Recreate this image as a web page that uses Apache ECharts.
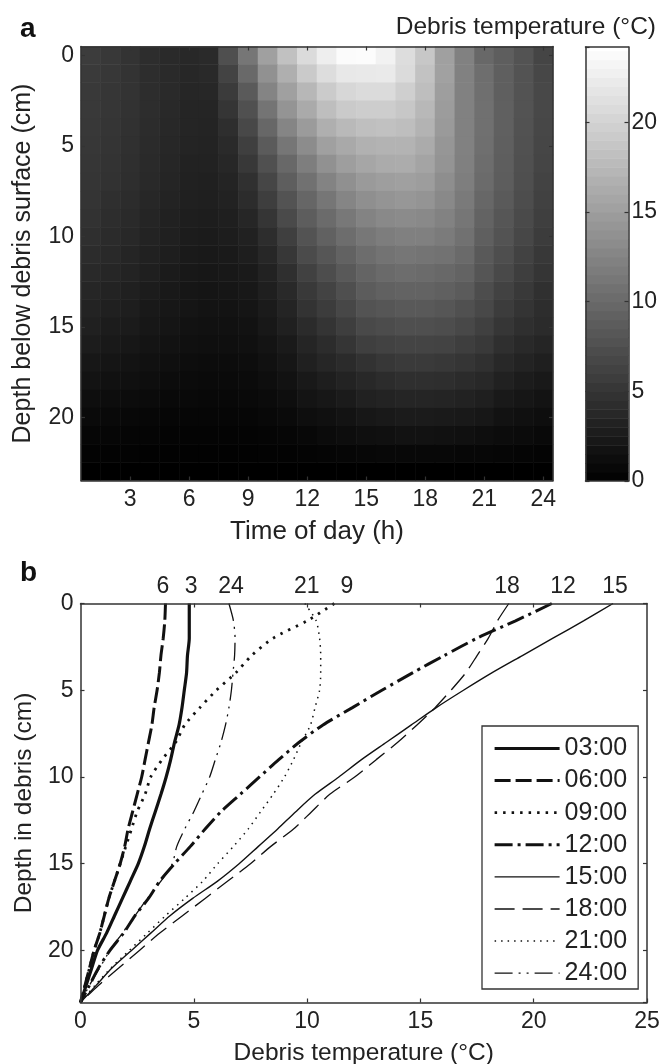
<!DOCTYPE html>
<html><head><meta charset="utf-8">
<style>html,body{margin:0;padding:0;background:#fff}#c{width:660px;height:1064px}canvas{filter:blur(.6px)}</style>
<script src="https://cdn.jsdelivr.net/npm/echarts@6/dist/echarts.min.js"></script>
</head><body><div id="c"></div>
<script>
const hours=[1,2,3,4,5,6,7,8,9,10,11,12,13,14,15,16,17,18,19,20,21,22,23,24];
const depths=[0,1,2,3,4,5,6,7,8,9,10,11,12,13,14,15,16,17,18,19,20,21,22,23];
const heat=[
[5.7,5.3,4.8,4.3,4.0,3.75,4.0,7.5,11.2,15.2,18.3,20.8,22.6,23.8,23.9,23.0,21.0,18.9,15.2,12.2,9.9,8.9,7.9,6.55],
[5.5,5.2,4.8,4.3,4.0,3.72,3.9,6.4,10.0,13.8,16.6,19.2,21.0,22.0,22.1,22.2,20.8,18.4,15.3,12.2,10.4,9.0,7.9,6.75],
[5.4,5.1,4.8,4.3,3.95,3.65,3.7,5.6,8.5,12.5,15.2,17.4,19.3,20.4,20.8,20.8,19.6,18.0,15.0,12.2,10.55,9.0,7.9,6.82],
[5.4,5.1,4.72,4.25,3.9,3.55,3.5,5.0,7.55,11.0,14.0,16.1,18.0,19.2,19.5,19.5,18.9,17.5,14.8,12.2,10.6,9.1,7.9,6.8],
[5.3,5.0,4.68,4.2,3.8,3.48,3.4,4.4,6.85,9.8,12.6,14.7,16.6,17.6,18.1,18.3,18.0,17.0,14.6,12.2,10.6,9.1,7.8,6.73],
[5.2,4.9,4.58,4.1,3.7,3.38,3.3,4.0,6.0,8.6,11.2,13.3,15.2,16.0,16.8,17.0,17.0,16.2,14.2,12.2,10.55,9.0,7.7,6.66],
[5.1,4.8,4.48,4.0,3.6,3.25,3.2,3.7,5.27,7.6,9.9,12.0,13.8,15.0,15.8,16.2,16.3,15.6,14.0,12.1,10.35,8.9,7.6,6.55],
[5.0,4.7,4.35,3.85,3.5,3.15,3.05,3.4,4.6,6.6,8.9,10.7,12.4,13.7,14.6,15.0,15.2,14.9,13.5,12.0,10.15,8.8,7.5,6.4],
[4.9,4.5,4.15,3.7,3.3,3.0,2.9,3.2,4.2,5.9,7.9,9.7,11.2,12.6,13.6,14.0,14.3,14.0,13.0,11.6,9.75,8.5,7.3,6.2],
[4.7,4.3,3.98,3.5,3.15,2.85,2.75,2.95,3.6,5.0,7.0,8.8,10.2,11.4,12.4,13.0,13.2,13.0,12.3,11.2,9.4,8.2,7.0,5.95],
[4.5,4.1,3.78,3.3,3.0,2.7,2.6,2.75,3.1,4.3,6.0,7.9,9.2,10.3,11.3,11.9,12.1,12.1,11.7,10.7,9.0,7.9,6.7,5.7],
[4.2,3.9,3.55,3.1,2.8,2.5,2.4,2.5,2.85,3.7,5.2,7.1,8.2,9.3,10.3,10.9,11.2,11.0,10.8,10.1,8.4,7.4,6.3,5.35],
[3.9,3.6,3.3,2.9,2.6,2.3,2.2,2.3,2.5,3.2,4.5,6.2,7.3,8.4,9.5,10.1,10.3,10.2,9.9,9.4,8.05,6.9,5.9,5.0],
[3.6,3.3,3.05,2.65,2.35,2.1,2.0,2.1,2.25,2.9,3.9,5.4,6.4,7.5,8.7,9.2,9.4,9.4,9.1,8.6,7.3,6.3,5.4,4.6],
[3.3,3.0,2.82,2.4,2.15,1.95,1.8,1.85,2.0,2.6,3.4,4.8,5.7,6.7,7.9,8.2,8.4,8.4,8.2,7.6,6.8,5.7,4.9,4.25],
[3.0,2.7,2.55,2.2,1.95,1.75,1.6,1.65,1.75,2.3,3.0,4.1,4.9,5.9,6.9,7.2,7.5,7.5,7.3,6.8,6.05,5.1,4.5,4.05],
[2.7,2.4,2.2,1.9,1.7,1.5,1.4,1.4,1.5,1.9,2.5,3.5,4.2,5.0,6.0,6.3,6.5,6.5,6.4,5.9,5.4,4.5,3.9,3.55],
[2.2,2.0,1.85,1.6,1.4,1.25,1.15,1.15,1.25,1.6,2.1,3.0,3.6,4.1,4.7,5.2,5.5,5.5,5.3,5.0,4.6,3.8,3.3,2.95],
[1.8,1.65,1.5,1.3,1.15,1.05,.95,.95,1.05,1.3,1.7,2.4,2.8,3.3,3.8,4.2,4.5,4.5,4.4,4.1,3.75,3.1,2.7,2.4],
[1.35,1.25,1.15,1.0,.9,.85,.75,.75,.85,1.0,1.35,1.9,2.2,2.6,3.1,3.3,3.5,3.5,3.4,3.2,2.95,2.4,2.1,1.85],
[.95,.85,.75,.65,.6,.6,.55,.55,.6,.75,.95,1.3,1.5,1.8,2.2,2.4,2.6,2.6,2.5,2.4,2.15,1.7,1.5,1.3],
[.6,.55,.5,.45,.4,.4,.35,.35,.4,.5,.6,.8,1.0,1.2,1.4,1.5,1.7,1.7,1.6,1.5,1.35,1.1,1.0,.85],
[.3,.28,.25,.22,.2,.2,.18,.18,.2,.25,.3,.4,.5,.6,.7,.75,.8,.8,.75,.7,.65,.55,.5,.4],
[0,0,0,0,0,0,0,0,0,0,0,0,0,0,0,0,0,0,0,0,0,0,0,0]
];
const colorbarLevels=[0,.5,1,1.5,2,2.5,3,3.5,4,4.5,5,5.5,6,6.5,7,7.5,8,8.5,9,9.5,10,10.5,11,11.5,12,12.5,13,13.5,14,14.5,15,15.5,16,16.5,17,17.5,18,18.5,19,19.5,20,20.5,21,21.5,22,22.5,23,23.5,24];
const t03=[4.8,4.8,4.8,4.72,4.68,4.58,4.48,4.35,4.15,3.98,3.78,3.55,3.3,3.05,2.82,2.55,2.2,1.85,1.5,1.15,.75,.5,.25,0];
const t06=[3.75,3.72,3.65,3.55,3.48,3.38,3.25,3.15,3.0,2.85,2.7,2.5,2.3,2.1,1.95,1.75,1.5,1.25,1.05,.85,.6,.4,.2,0];
const t09=[11.2,10.0,8.5,7.55,6.85,6.0,5.27,4.6,4.2,3.6,3.1,2.85,2.5,2.25,2.0,1.75,1.5,1.25,1.05,.85,.6,.4,.2,0];
const t12=[20.8,19.2,17.5,16.05,14.65,13.3,12.0,10.7,9.65,8.75,7.9,7.05,6.2,5.5,4.85,4.15,3.5,3.0,2.4,1.9,1.3,.8,.4,0];
const t15=[23.5,22.2,20.85,19.5,18.15,16.9,15.7,14.6,13.5,12.4,11.4,10.35,9.5,8.7,7.85,7.0,6.05,4.95,3.95,3.1,2.25,1.4,.7,0];
const t18=[18.9,18.4,18.0,17.5,17.0,16.35,15.65,14.85,14.0,13.05,12.1,11.0,10.2,9.4,8.4,7.5,6.5,5.5,4.5,3.5,2.6,1.7,.8,0];
const t21=[9.9,10.4,10.55,10.6,10.6,10.55,10.35,10.15,9.75,9.4,9.0,8.5,7.95,7.4,6.75,6.05,5.4,4.6,3.75,2.95,2.15,1.35,.65,0];
const t24=[6.55,6.75,6.82,6.8,6.73,6.66,6.55,6.4,6.2,5.95,5.7,5.35,5.0,4.6,4.25,4.05,3.55,2.95,2.4,1.85,1.3,.85,.4,0];
const curveNames=['03:00','06:00','09:00','12:00','15:00','18:00','21:00','24:00'];
const curves=[t03,t06,t09,t12,t15,t18,t21,t24];
const curveWidths=[3.2,3,2.8,3,1.4,1.3,1.5,1.3];
const curveDash=['solid',[16,5],[2.5,6],[18,5,3,5],'solid',[20,8],[1.5,5],[18,6,2,6,2,6]];
const topTexts=['6','3','24','21','9','18','12','15'];
const topPositions=[3.64,4.88,6.64,9.99,11.76,18.82,21.29,23.59];

const FF='"Liberation Sans"',TXT='#222',AX='#333',FS=23,NS=25;
const chart=echarts.init(document.getElementById('c'),null,{renderer:'canvas',width:660,height:1064});
const axLine={show:true,onZero:false,lineStyle:{color:AX,width:1.5}};
const tick3={show:true,inside:true,length:4,lineStyle:{color:AX,width:1.2}};
const lab={color:TXT,fontFamily:FF,fontSize:FS};
const nameStyle={color:TXT,fontFamily:FF,fontSize:NS};
const every3=(i,v)=>(+v)%3===0, every5=(i,v)=>(+v)%5===0;
const heatData=[];
heat.forEach((row,r)=>row.forEach((v,c)=>heatData.push([c,r,v])));
const grayOf=v=>{const g=Math.round(255*Math.min(1,v/24.2));return `rgb(${g},${g},${g})`};
const option={
 animation:false,backgroundColor:'#fff',
 title:[
  {text:'a',left:20,top:15,textStyle:{fontFamily:FF,fontSize:28,fontWeight:'bold',color:'#111'},padding:0},
  {text:'b',left:20,top:559,textStyle:{fontFamily:FF,fontSize:28,fontWeight:'bold',color:'#111'},padding:0},
  {text:'Debris temperature (°C)',right:4,top:15,textStyle:{fontFamily:FF,fontSize:24.5,fontWeight:'normal',color:TXT},padding:0}
 ],
 legend:{show:true,data:curveNames.map((n,i)=>({name:n,lineStyle:{width:curveWidths[i]}})),orient:'vertical',left:482,top:726,padding:[10,11,3.3,11],itemWidth:65,itemHeight:22,itemGap:7.1,itemStyle:{opacity:0},
  borderColor:AX,borderWidth:1.3,backgroundColor:'#fff',textStyle:{color:TXT,fontFamily:FF,fontSize:25,lineHeight:22},z:20},
 visualMap:{show:false,seriesIndex:0,min:0,max:24.2,inRange:{color:['#000000','#ffffff']}},
 grid:[
  {left:81,top:46.5,width:472,height:434,outerBoundsMode:'none'},
  {left:585.5,top:47,width:43,height:434,outerBoundsMode:'none'},
  {left:80.5,top:603.5,width:566.5,height:399,outerBoundsMode:'none'}
 ],
 xAxis:[
  {gridIndex:0,type:'category',data:hours,position:'bottom',z:10,axisLine:axLine,axisTick:{...tick3,alignWithLabel:true,interval:every3},axisLabel:{...lab,interval:every3,margin:8},
   name:'Time of day (h)',nameLocation:'middle',nameGap:38,nameTextStyle:{...nameStyle,fontSize:26},splitLine:{show:false}},
  {gridIndex:0,type:'category',data:hours,position:'top',z:10,axisLine:axLine,axisTick:{...tick3,alignWithLabel:true,interval:every3},axisLabel:{show:false},splitLine:{show:false}},
  {gridIndex:1,type:'value',min:0,max:1,position:'bottom',z:10,axisLine:axLine,axisTick:{show:false},axisLabel:{show:false},splitLine:{show:false}},
  {gridIndex:1,type:'value',min:0,max:1,position:'top',z:10,axisLine:axLine,axisTick:{show:false},axisLabel:{show:false},splitLine:{show:false}},
  {gridIndex:2,type:'value',min:0,max:25,interval:5,position:'bottom',z:10,axisLine:axLine,axisTick:tick3,axisLabel:{...lab,margin:8},
   name:'Debris temperature (°C)',nameLocation:'middle',nameGap:38,nameTextStyle:{...nameStyle,fontSize:24.5},splitLine:{show:false}},
  {gridIndex:2,type:'value',min:0,max:25,position:'top',z:10,axisLine:axLine,
   axisTick:{...tick3,customValues:[5,10,15,20]},
   axisLabel:{...lab,margin:5,customValues:topPositions,formatter:v=>topTexts[topPositions.indexOf(v)]},splitLine:{show:false}}
 ],
 yAxis:[
  {gridIndex:0,type:'category',data:depths,inverse:true,position:'left',z:10,axisLine:axLine,axisTick:{...tick3,alignWithLabel:true,interval:every5},axisLabel:{...lab,interval:every5,margin:7},
   name:'Depth below debris surface (cm)',nameLocation:'middle',nameGap:45.5,nameTextStyle:nameStyle,splitLine:{show:false}},
  {gridIndex:0,type:'category',data:depths,inverse:true,position:'right',z:10,axisLine:axLine,axisTick:{...tick3,alignWithLabel:true,interval:every5},axisLabel:{show:false},splitLine:{show:false}},
  {gridIndex:1,type:'value',min:0,max:24.2,interval:5,position:'left',z:10,axisLine:axLine,axisTick:tick3,axisLabel:{show:false},splitLine:{show:false}},
  {gridIndex:1,type:'value',min:0,max:24.2,interval:5,position:'right',z:10,axisLine:axLine,axisTick:tick3,axisLabel:{...lab,margin:3,showMaxLabel:false,formatter:v=>v%5===0?v:''},splitLine:{show:false}},
  {gridIndex:2,type:'value',min:0,max:23,interval:5,inverse:true,position:'left',z:10,axisLine:axLine,axisTick:tick3,axisLabel:{...lab,margin:7,showMaxLabel:false},
   name:'Depth in debris (cm)',nameLocation:'middle',nameGap:43,nameTextStyle:{...nameStyle,fontSize:24.5},splitLine:{show:false}},
  {gridIndex:2,type:'value',min:0,max:23,interval:5,inverse:true,position:'right',z:10,axisLine:axLine,axisTick:tick3,axisLabel:{show:false},splitLine:{show:false}}
 ],
 series:[
  {type:'heatmap',xAxisIndex:0,yAxisIndex:0,data:heatData,progressive:0,emphasis:{disabled:true},itemStyle:{borderWidth:0}},
  {type:'custom',xAxisIndex:2,yAxisIndex:2,silent:true,clip:true,data:colorbarLevels.map(v=>[v]),
   encode:{y:0},
   renderItem:(p,api)=>{
     const v=api.value(0);
     const a=api.coord([0,v]),b=api.coord([1,Math.min(24.2,v+.5)]);
     return {type:'rect',shape:{x:a[0],y:b[1],width:b[0]-a[0],height:a[1]-b[1]+0.6},style:{fill:grayOf(v+.25)}};
   }},
  ...curveNames.map((n,i)=>({name:n,type:'line',xAxisIndex:4,yAxisIndex:4,symbol:'none',showSymbol:false,smooth:0.25,
    data:curves[i].map((v,d)=>[v,depths[d]]),
    lineStyle:{color:'#111',width:curveWidths[i],type:curveDash[i]},itemStyle:{color:'#111'},z:3}))
 ]
};
chart.setOption(option);
</script></body></html>
